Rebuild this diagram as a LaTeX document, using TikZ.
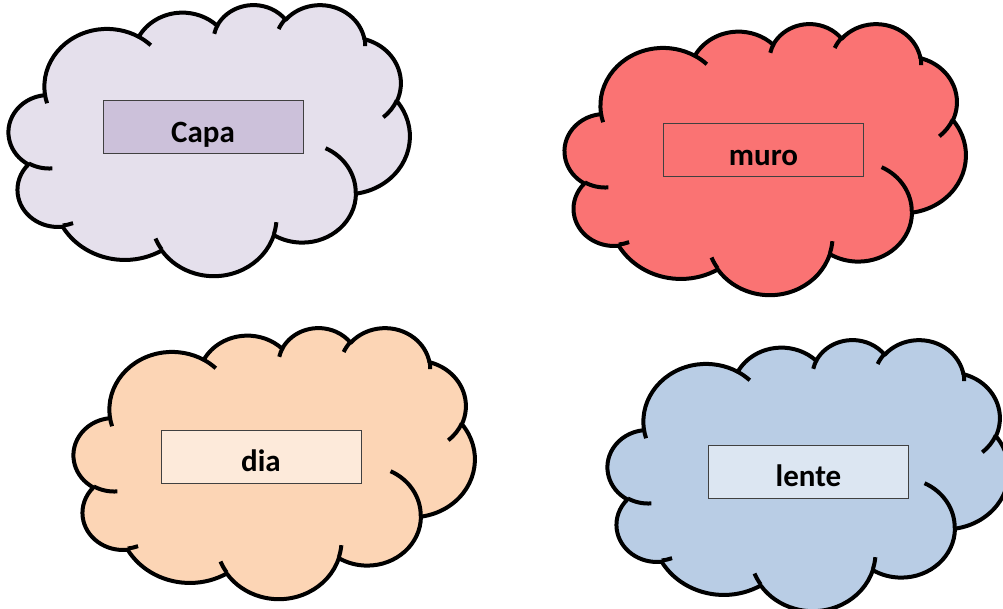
\documentclass[tikz,border=0pt]{standalone}
\usepackage{fontspec}
\setmainfont{Carlito}
\definecolor{capacloud}{HTML}{E5E0EC}
\definecolor{capabox}{HTML}{CCC1DA}
\definecolor{murocloud}{HTML}{FA7373}
\definecolor{diacloud}{HTML}{FCD5B5}
\definecolor{diabox}{HTML}{FDEADA}
\definecolor{lentecloud}{HTML}{B9CDE5}
\definecolor{lentebox}{HTML}{DCE6F2}
\begin{document}
\begin{tikzpicture}[x=0.5pt, y=-0.5pt,
  cloudline/.style={line width=2pt, line join=round},
  wordbox/.style={draw=black!75, line width=0.5pt, minimum width=100pt,
    minimum height=26.5pt, inner sep=0pt},
  word/.style={font=\bfseries\fontsize{15.5}{18}\selectfont, anchor=base, inner sep=0pt}]

  \newcommand\bump[4]{arc[x radius=#1, y radius=#2,
    start angle={atan2(#1*sin(#3),#2*cos(#3))},
    delta angle={mod(atan2(#1*sin(#3+#4),#2*cos(#3+#4))-atan2(#1*sin(#3),#2*cos(#3))+360,360)}]}

  \newcommand\cloudshape[3]{%
    \begin{scope}[shift={(#1,#2)}, xscale=401/43.2, yscale=271/43.2]
      \filldraw[cloudline, fill=#3] (3.900,14.370)
        \bump{6.753}{9.190}{-190.4875}{123.7805}
        \bump{5.333}{7.267}{-144.1024}{89.9452}
        \bump{4.365}{5.945}{-145.8079}{99.7230}
        \bump{4.857}{6.595}{-130.9861}{117.2417}
        \bump{5.333}{7.273}{-78.7089}{109.0269}
        \bump{6.775}{9.220}{-46.2673}{130.2690}
        \bump{5.785}{7.867}{0.6250}{114.0333}
        \bump{6.752}{9.215}{22.4516}{115.1726}
        \bump{7.720}{10.543}{66.2426}{75.7110}
        \bump{4.360}{5.918}{-274.9421}{146.7356}
        \bump{4.345}{5.945}{-246.8285}{152.5189} -- cycle;
      %% inner strokes
      \draw[cloudline]
        (4.693,26.177) \bump{4.345}{5.945}{86.7420}{26.4295}
        (6.928,34.899) \bump{4.360}{5.918}{73.6105}{11.4475}
        (16.478,39.090) \bump{6.752}{9.215}{137.6242}{14.0811}
        (28.827,34.751) \bump{6.752}{9.215}{6.4533}{15.9984}
        (34.129,22.954) \bump{5.785}{7.867}{-70.2924}{70.9174}
        (41.798,15.354) \bump{5.333}{7.273}{30.3180}{27.7515}
        (38.324,5.426) \bump{4.857}{6.595}{-13.7443}{14.8589}
        (29.078,3.952) \bump{4.857}{6.595}{-149.1815}{18.1954}
        (22.141,4.720) \bump{4.365}{5.945}{-163.4943}{17.6864}
        (14.000,5.192) \bump{6.753}{9.190}{-66.7070}{12.3194}
        (4.127,15.789) \bump{6.753}{9.190}{157.6544}{11.8582};
    \end{scope}}

  \useasboundingbox (0,0) rectangle (1003,609); %% positioning

  \cloudshape{8.75}{4.2}{capacloud}
  \cloudshape{564.8}{23.2}{murocloud}
  \cloudshape{73.75}{327.2}{diacloud}
  \cloudshape{607.75}{339.2}{lentecloud}

  \node[wordbox, fill=capabox] (capa) at (203,127) {};
  \node[wordbox, fill=murocloud] (muro) at (763.5,150.5) {};
  \node[wordbox, fill=diabox] (dia) at (261,457.5) {};
  \node[wordbox, fill=lentebox] (lente) at (808.5,472.5) {};

  \node[word] (capaword) at (203,142.5) {Capa};
  \node[word] (muroword) at (763.5,165.5) {muro};
  \node[word] (diaword) at (261,472) {dia};
  \node[word] (lenteword) at (808.5,487) {lente};

\end{tikzpicture}
\end{document}
